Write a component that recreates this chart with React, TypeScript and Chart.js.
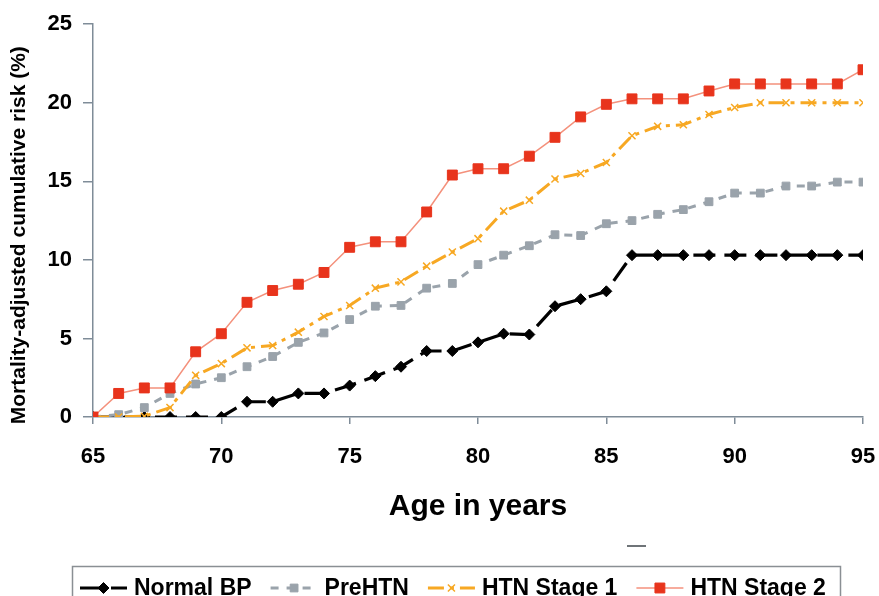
import React, { useEffect, useRef } from 'react';
import { Chart, registerables } from 'chart.js';
import { drawPoint } from 'chart.js/helpers';

Chart.register(...registerables);

const ages = [65, 66, 67, 68, 69, 70, 71, 72, 73, 74, 75, 76, 77, 78, 79, 80, 81, 82, 83, 84, 85, 86, 87, 88, 89, 90, 91, 92, 93, 94, 95];
const normalBP = [0, 0, 0, 0, 0, 0, 0.97, 0.97, 1.5, 1.5, 2.0, 2.6, 3.2, 4.2, 4.2, 4.75, 5.3, 5.25, 7.05, 7.5, 8.0, 10.3, 10.3, 10.3, 10.3, 10.3, 10.3, 10.3, 10.3, 10.3, 10.3];
const preHTN = [0, 0.15, 0.6, 1.5, 2.1, 2.5, 3.2, 3.85, 4.75, 5.35, 6.2, 7.05, 7.1, 8.2, 8.5, 9.7, 10.3, 10.9, 11.6, 11.55, 12.3, 12.5, 12.9, 13.2, 13.7, 14.25, 14.25, 14.7, 14.7, 14.95, 14.95];
const htnStage1 = [0, 0, 0.05, 0.6, 2.65, 3.4, 4.4, 4.55, 5.4, 6.4, 7.1, 8.2, 8.6, 9.6, 10.5, 11.35, 13.1, 13.8, 15.15, 15.5, 16.2, 17.9, 18.5, 18.6, 19.25, 19.7, 20.0, 20.0, 20.0, 20.0, 20.0];
const htnStage2 = [0, 1.5, 1.85, 1.85, 4.15, 5.3, 7.3, 8.05, 8.45, 9.2, 10.8, 11.15, 11.15, 13.05, 15.4, 15.8, 15.8, 16.6, 17.8, 19.1, 19.9, 20.25, 20.25, 20.25, 20.75, 21.2, 21.2, 21.2, 21.2, 21.2, 22.1];
const seriesNames = ['Normal BP', 'PreHTN', 'HTN Stage 1', 'HTN Stage 2'];
const xTicks = [65, 70, 75, 80, 85, 90, 95];
const yTicks = [0, 5, 10, 15, 20, 25];
const xTitle = 'Age in years';
const yTitle = 'Mortality-adjusted cumulative risk (%)';

const FONT = '"Liberation Sans", Arial, Helvetica, sans-serif';
const AXIS_COLOR = '#7f8c98';

const toPoints = (vals: number[]) => ages.map((a, i) => ({ x: a, y: vals[i] }));

const boxedLegend = {
  id: 'boxedLegend',
  afterDraw(chart: any) {
    const ctx = chart.ctx as CanvasRenderingContext2D;
    ctx.save();
    ctx.strokeStyle = '#8a8f94';
    ctx.lineWidth = 1.5;
    ctx.strokeRect(72.5, 566.5, 768, 60);
    // stray mark in original figure
    ctx.strokeStyle = '#6f7478';
    ctx.lineWidth = 2;
    ctx.beginPath();
    ctx.moveTo(627, 546);
    ctx.lineTo(646, 546);
    ctx.stroke();

    ctx.font = `bold 23px ${FONT}`;
    ctx.textBaseline = 'middle';
    ctx.textAlign = 'left';
    const y = 588;
    let x = 80;
    const sw = 47;
    chart.data.datasets.forEach((ds: any) => {
      ctx.save();
      ctx.strokeStyle = ds.borderColor;
      ctx.lineWidth = ds.borderWidth;
      ctx.setLineDash(ds.borderDash || []);
      ctx.beginPath();
      ctx.moveTo(x, y);
      ctx.lineTo(x + sw, y);
      ctx.stroke();
      ctx.setLineDash([]);
      ctx.fillStyle = ds.pointBackgroundColor;
      ctx.strokeStyle = ds.pointBorderColor;
      ctx.lineWidth = ds.pointBorderWidth;
      drawPoint(ctx, { pointStyle: ds.pointStyle, rotation: 0, radius: ds.pointRadius, borderWidth: ds.pointBorderWidth } as any, x + sw / 2, y);
      ctx.restore();
      ctx.fillStyle = '#000';
      ctx.fillText(ds.label, x + sw + 7, y + 1);
      x += sw + 7 + ctx.measureText(ds.label).width + 19;
    });
    ctx.restore();
  },
};

export default function App() {
  const ref = useRef<HTMLCanvasElement | null>(null);

  useEffect(() => {
    if (!ref.current) return;
    const chart = new Chart(ref.current, {
      type: 'line',
      data: {
        datasets: [
          {
            label: seriesNames[0],
            data: toPoints(normalBP),
            borderColor: '#000000',
            borderWidth: 3.2,
            borderDash: [22, 9],
            pointStyle: 'rectRot',
            pointRadius: 5.5,
            pointBackgroundColor: '#000000',
            pointBorderColor: '#000000',
            pointBorderWidth: 1,
            order: 3,
          },
          {
            label: seriesNames[1],
            data: toPoints(preHTN),
            borderColor: '#9aa3ab',
            borderWidth: 3,
            borderDash: [8, 8],
            pointStyle: 'rect',
            pointRadius: 5.5,
            pointBackgroundColor: '#9aa3ab',
            pointBorderColor: '#9aa3ab',
            pointBorderWidth: 1,
            order: 2,
          },
          {
            label: seriesNames[2],
            data: toPoints(htnStage1),
            borderColor: '#f7a823',
            borderWidth: 3,
            borderDash: [16, 6, 4, 6],
            pointStyle: 'crossRot',
            pointRadius: 5,
            pointBackgroundColor: '#f7a823',
            pointBorderColor: '#f7a823',
            pointBorderWidth: 1.5,
            order: 1,
          },
          {
            label: seriesNames[3],
            data: toPoints(htnStage2),
            borderColor: '#f4917c',
            borderWidth: 1.5,
            pointStyle: 'rect',
            pointRadius: 7,
            pointBackgroundColor: '#e8341c',
            pointBorderColor: '#e8341c',
            pointBorderWidth: 1,
            order: 0,
          },
        ],
      },
      options: {
        responsive: false,
        animation: false,
        layout: { padding: { left: 0, right: 0, top: 20, bottom: 71.5 } },
        plugins: {
          legend: { display: false },
          tooltip: { enabled: false },
        },
        scales: {
          x: {
            type: 'linear',
            min: 65,
            max: 95,
            afterFit: (scale: any) => {
              scale.height = 107.5;
              scale.paddingRight = 16;
              scale.paddingLeft = 0;
            },
            afterBuildTicks: (scale: any) => {
              scale.ticks = xTicks.map((v) => ({ value: v }));
            },
            ticks: {
              color: '#000',
              font: { family: FONT, size: 22, weight: 'bold' },
              padding: 20,
              maxRotation: 0,
            },
            grid: { drawOnChartArea: false, drawTicks: true, tickLength: 7, color: AXIS_COLOR, lineWidth: 1.5 },
            border: { display: true, color: AXIS_COLOR, width: 1.5 },
            title: {
              display: true,
              text: xTitle,
              color: '#000',
              font: { family: FONT, size: 30, weight: 'bold' },
              padding: { top: 0, bottom: 0 },
            },
          },
          y: {
            type: 'linear',
            min: 0,
            max: 25,
            afterFit: (scale: any) => {
              scale.width = 93;
            },
            afterBuildTicks: (scale: any) => {
              scale.ticks = yTicks.map((v) => ({ value: v }));
            },
            ticks: {
              color: '#000',
              font: { family: FONT, size: 22, weight: 'bold' },
              padding: 11,
            },
            grid: { drawOnChartArea: false, drawTicks: true, tickLength: 10, color: AXIS_COLOR, lineWidth: 1.5 },
            border: { display: true, color: AXIS_COLOR, width: 1.5 },
            title: {
              display: true,
              text: yTitle + '     ',
              color: '#000',
              font: { family: FONT, size: 21, weight: 'bold' },
              padding: { top: 7, bottom: 0 },
            },
          },
        },
      },
      plugins: [boxedLegend],
    });
    return () => chart.destroy();
  }, []);

  return (
    <div style={{ position: 'fixed', left: 0, top: 0, width: 879, height: 596, background: '#fff' }}>
      <canvas ref={ref} width={879} height={596} style={{ display: 'block' }} />
    </div>
  );
}
